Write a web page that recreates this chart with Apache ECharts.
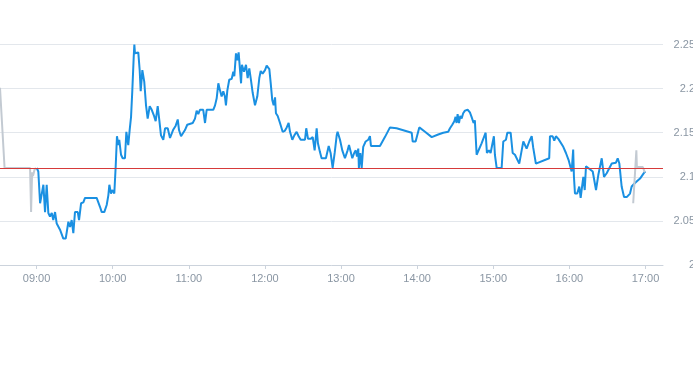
<!DOCTYPE html>
<html>
<head>
<meta charset="utf-8">
<script src="https://cdn.jsdelivr.net/npm/echarts@6/dist/echarts.min.js"></script>
<style>
html,body{margin:0;padding:0;background:#fff;}
#c{width:693px;height:365px;}
</style>
</head>
<body>
<div id="c"></div>
<script>
// minutes after 09:00
var mainTimes = [0.2,1.4,2.8,4.1,5.4,6.7,8.0,9.3,10.6,12.0,13.2,14.6,15.9,17.2,18.5,19.9,21.1,23.0,25.1,26.4,27.7,29.0,30.3,32.5,33.5,35.1,36.9,38.2,40.3,47.4,50.0,51.4,53.4,55.3,56.6,57.4,58.7,59.7,61.3,62.4,63.4,64.5,65.2,66.6,67.9,69.7,70.8,72.3,73.4,74.5,75.5,76.6,77.1,77.6,78.4,80.2,81.3,82.1,83.4,84.9,86.3,87.6,89.2,90.8,92.4,93.9,95.5,96.8,98.1,99.9,101.3,103.4,105.2,106.5,107.6,109.7,111.3,112.3,113.9,117.0,118.8,119.6,123.1,124.9,126.2,127.5,128.8,131.4,132.8,134.1,139.3,140.7,142.0,143.3,144.6,145.9,147.2,148.5,149.3,150.4,151.9,153.8,155.1,155.9,157.2,158.2,159.3,160.4,161.2,161.9,163.5,165.1,166.4,167.7,169.0,170.4,172.2,174.0,175.6,176.7,178.2,180.1,181.4,183.5,184.6,185.8,186.9,188.0,188.7,190.1,191.9,194.0,195.6,197.2,198.7,199.8,201.6,203.2,205.0,206.6,208.2,211.6,212.6,214.0,216.1,217.7,219.2,220.8,221.8,223.4,224.7,228.1,230.3,231.8,233.4,235.0,236.6,237.3,239.2,241.0,243.1,245.2,246.3,247.8,248.9,250.4,251.6,252.6,253.6,254.1,255.2,256.3,257.5,259.4,261.5,262.8,263.6,270.7,274.6,278.6,283.8,295.7,296.5,298.8,301.7,306.2,311.5,316.6,320.6,324.5,325.9,327.7,329.3,330.3,331.1,331.9,333.0,334.0,335.1,336.3,337.7,339.8,341.6,342.9,344.5,345.5,346.9,348.2,350.8,354.0,355.0,356.6,357.9,359.2,360.5,361.3,362.7,366.6,367.9,370.0,371.1,373.7,375.3,377.1,378.5,380.5,382.4,383.7,386.3,388.4,390.3,391.5,393.6,404.1,404.7,406.8,408.1,409.4,411.3,412.6,415.2,417.3,419.4,421.8,423.0,423.6,424.4,426.2,427.8,428.9,430.2,431.0,432.1,433.1,434.9,438.4,441.0,442.8,445.5,447.3,449.4,453.4,456.7,458.1,459.4,461.2,463.1,465.2,467.8,469.1,471.7,475.7,479.1,480.0];
var mainValues = [2.110,2.106,2.070,2.070,2.091,2.060,2.091,2.059,2.055,2.059,2.051,2.060,2.047,2.045,2.040,2.041,2.030,2.030,2.049,2.043,2.051,2.036,2.060,2.060,2.051,2.070,2.071,2.076,2.076,2.076,2.066,2.060,2.060,2.068,2.079,2.091,2.081,2.085,2.081,2.112,2.146,2.136,2.142,2.125,2.121,2.121,2.151,2.136,2.153,2.168,2.198,2.236,2.250,2.240,2.241,2.241,2.221,2.197,2.221,2.208,2.181,2.166,2.180,2.176,2.170,2.163,2.180,2.164,2.147,2.142,2.155,2.155,2.144,2.142,2.153,2.158,2.165,2.153,2.146,2.153,2.159,2.161,2.161,2.166,2.175,2.171,2.176,2.176,2.161,2.176,2.176,2.181,2.189,2.206,2.198,2.191,2.197,2.191,2.181,2.198,2.210,2.211,2.219,2.214,2.240,2.232,2.241,2.240,2.206,2.227,2.219,2.227,2.212,2.223,2.210,2.195,2.181,2.191,2.212,2.220,2.217,2.221,2.226,2.222,2.206,2.187,2.181,2.190,2.172,2.169,2.161,2.151,2.152,2.156,2.161,2.151,2.142,2.147,2.151,2.146,2.142,2.142,2.155,2.143,2.143,2.145,2.130,2.155,2.138,2.128,2.121,2.121,2.135,2.127,2.110,2.127,2.147,2.151,2.142,2.130,2.121,2.130,2.136,2.136,2.121,2.127,2.130,2.123,2.132,2.110,2.127,2.110,2.134,2.140,2.142,2.146,2.135,2.135,2.145,2.156,2.155,2.150,2.140,2.140,2.156,2.151,2.145,2.148,2.150,2.151,2.155,2.159,2.163,2.168,2.161,2.171,2.161,2.169,2.166,2.172,2.175,2.176,2.173,2.168,2.161,2.164,2.125,2.127,2.138,2.150,2.127,2.130,2.127,2.127,2.146,2.125,2.110,2.110,2.140,2.142,2.150,2.150,2.127,2.125,2.124,2.115,2.130,2.140,2.132,2.140,2.146,2.133,2.115,2.121,2.146,2.146,2.141,2.146,2.143,2.142,2.134,2.127,2.119,2.106,2.131,2.100,2.081,2.081,2.089,2.076,2.091,2.100,2.085,2.112,2.110,2.106,2.085,2.102,2.121,2.100,2.104,2.115,2.116,2.121,2.115,2.089,2.077,2.077,2.081,2.089,2.093,2.098,2.105,2.106];
var extTimesA = [-28.8,-25.2,-5.1,-4.3,-3.5,-2.8,-1.6,-0.4];
var extValuesA = [2.201,2.110,2.110,2.060,2.105,2.101,2.108,2.110];
var extTimesB = [470.3,472.8,473.2,477.9,479.5];
var extValuesB = [2.070,2.130,2.111,2.111,2.105];
var prevClose = 2.11;
var tickMinutes = [0,60,120,180,240,300,360,420,480];
var tickLabels = ["09:00","10:00","11:00","12:00","13:00","14:00","15:00","16:00","17:00"];

function zip(a,b){ return a.map(function(t,i){ return [t,b[i]]; }); }

var chart = echarts.init(document.getElementById('c'));
chart.setOption({
  animation:false,
  grid:{left:0,right:30,top:44.5,bottom:100,containLabel:false,outerBoundsMode:'none'},
  xAxis:{
    type:'value', min:-28.8, max:493.8,
    splitLine:{show:false},
    axisLine:{lineStyle:{color:'#ccd3dc'}},
    axisTick:{show:true,length:4,lineStyle:{color:'#ccd3dc'},customValues:tickMinutes},
    axisLabel:{color:'#8a96a3',fontSize:11,fontFamily:'Liberation Sans, Arial, sans-serif',margin:8,
      customValues:tickMinutes,
      formatter:function(v){ var i=tickMinutes.indexOf(Math.round(v)); return i>=0?tickLabels[i]:''; }}
  },
  yAxis:{
    type:'value', position:'right', min:2, max:2.25, interval:0.05,
    axisLine:{show:false}, axisTick:{show:false},
    splitLine:{lineStyle:{color:'#e3e7ec',width:1}},
    axisLabel:{color:'#8a96a3',fontSize:11,fontFamily:'Liberation Sans, Arial, sans-serif',align:'right',margin:32}
  },
  series:[
    {type:'line',data:zip(extTimesA,extValuesA),showSymbol:false,lineStyle:{color:'#c3cad2',width:2},z:2},
    {type:'line',data:zip(mainTimes,mainValues),showSymbol:false,lineStyle:{color:'#1a90e2',width:2},z:3,
      markLine:{silent:true,symbol:'none',label:{show:false},lineStyle:{color:'#d63a3a',width:1,type:'solid'},data:[{yAxis:prevClose}]}},
    {type:'line',data:zip(extTimesB,extValuesB),showSymbol:false,lineStyle:{color:'#c3cad2',width:2},z:4}
  ]
});
</script>
</body>
</html>
